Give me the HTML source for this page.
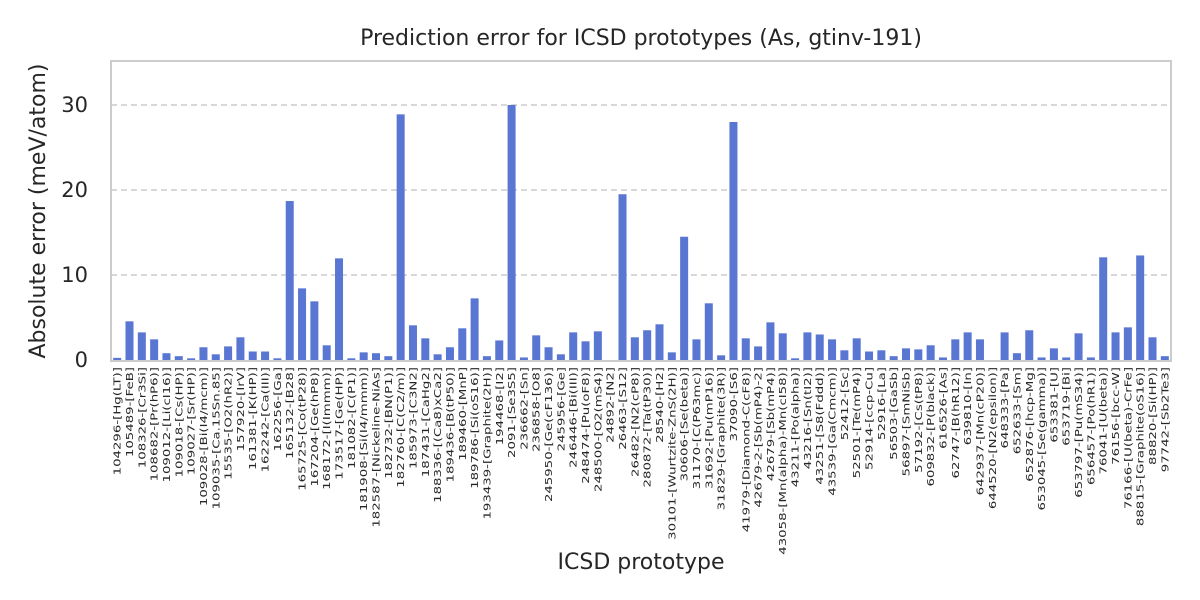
<!DOCTYPE html>
<html><head><meta charset="utf-8"><style>
html,body{margin:0;padding:0;background:#fff;}
svg{display:block;font-family:"Liberation Sans","DejaVu Sans",sans-serif;}
</style></head><body>
<svg id="chart" width="1200" height="600" viewBox="0 0 1200 600">
<rect width="1200" height="600" fill="#fff"/>
<text x="641" y="45" text-anchor="middle" font-size="22" fill="#262626" font-family="DejaVu Sans, sans-serif">Prediction error for ICSD prototypes (As, gtinv-191)</text>
<g id="grid"></g>
<g id="bars"></g>
<rect x="111" y="61" width="1060" height="300" fill="none" stroke="#cccccc" stroke-width="2"/>
<g id="yticks"></g>
<g id="xticks"></g>
<text transform="translate(45,211) rotate(-90)" text-anchor="middle" font-size="22" fill="#262626" font-family="DejaVu Sans, sans-serif">Absolute error (meV/atom)</text>
<text x="641" y="569" text-anchor="middle" font-size="22" fill="#262626" font-family="DejaVu Sans, sans-serif">ICSD prototype</text>
</svg>
<script>
const categories = ["104296-[Hg(LT)]","105489-[FeB]","108326-[Cr3Si]","108682-[Pr(hP6)]","109012-[Li(cI16)]","109018-[Cs(HP)]","109027-[Sr(HP)]","109028-[Bi(I4/mcm)]","109035-[Ca.15Sn.85]","15535-[O2(hR2)]","157920-[IrV]","161381-[K(HP)]","162242-[Ca(III)]","162256-[Ga]","165132-[B28]","165725-[Co(tP28)]","167204-[Ge(hP8)]","168172-[I(Immm)]","173517-[Ge(HP)]","181082-[C(P1)]","181908-[Si(I4/mmm)]","182587-[Nickeline-NiAs]","182732-[BN(P1)]","182760-[C(C2/m)]","185973-[C3N2]","187431-[CaHg2]","188336-[(Ca8)xCa2]","189436-[B(tP50)]","189460-[MnP]","189786-[Si(oS16)]","193439-[Graphite(2H)]","194468-[I2]","2091-[Se3S5]","236662-[Sn]","236858-[O8]","245950-[Ge(cF136)]","245956-[Ge]","246446-[Bi(III)]","248474-[Pu(oF8)]","248500-[O2(mS4)]","24892-[N2]","26463-[S12]","26482-[N2(cP8)]","280872-[Ta(tP30)]","28540-[H2]","30101-[Wurtzite-ZnS(2H)]","30606-[Se(beta)]","31170-[C(P63mc)]","31692-[Pu(mP16)]","31829-[Graphite(3R)]","37090-[S6]","41979-[Diamond-C(cF8)]","42679-2-[Sb(mP4)-2]","42679-[Sb(mP4)]","43058-[Mn(alpha)-Mn(cI58)]","43211-[Po(alpha)]","43216-[Sn(tI2)]","43251-[S8(Fddd)]","43539-[Ga(Cmcm)]","52412-[Sc]","52501-[Te(mP4)]","52914-[ccp-Cu]","52916-[La]","56503-[GaSb]","56897-[SmNiSb]","57192-[Cs(tP8)]","609832-[P(black)]","616526-[As]","62747-[B(hR12)]","639810-[In]","642937-[Mn(cP20)]","644520-[N2(epsilon)]","648333-[Pa]","652633-[Sm]","652876-[hcp-Mg]","653045-[Se(gamma)]","653381-[U]","653719-[Bi]","653797-[Pu(mS34)]","656457-[Po(hR1)]","76041-[U(beta)]","76156-[bcc-W]","76166-[U(beta)-CrFe]","88815-[Graphite(oS16)]","88820-[Si(HP)]","97742-[Sb2Te3]"];
const errors = [0.25,4.55,3.25,2.43,0.8,0.45,0.2,1.5,0.67,1.6,2.67,1.0,1.0,0.2,18.7,8.43,6.9,1.73,11.96,0.2,0.9,0.8,0.45,28.9,4.08,2.55,0.67,1.5,3.73,7.25,0.45,2.3,30.0,0.3,2.9,1.5,0.67,3.25,2.2,3.37,0,19.5,2.67,3.5,4.2,0.9,14.5,2.43,6.67,0.55,28.0,2.55,1.6,4.43,3.14,0.2,3.25,3.0,2.43,1.14,2.55,1.0,1.14,0.45,1.37,1.25,1.73,0.3,2.43,3.25,2.43,0,3.25,0.8,3.5,0.3,1.37,0.3,3.14,0.3,12.08,3.25,3.84,12.3,2.67,0.45];
const yTicks = [0,10,20,30];

const NS="http://www.w3.org/2000/svg";
const X0=111,X1=1171,Y0=360,PPU=8.5;
const step=(X1-X0)/categories.length;
const xc=i=>X0+(i+0.5)*step;
const y=v=>Y0-v*PPU;
function mk(t,a){const e=document.createElementNS(NS,t);for(const k in a)e.setAttribute(k,a[k]);return e;}
const grid=document.getElementById('grid'),bars=document.getElementById('bars'),yt=document.getElementById('yticks'),xt=document.getElementById('xticks');
yTicks.forEach(v=>{
  if(v>0){const l=mk('line',{x1:X0,x2:X1,y1:y(v),y2:y(v),stroke:'#cccccc','stroke-width':1.6,'stroke-dasharray':'6,4'});
  
  
  grid.appendChild(l);}
  const t=mk('text',{x:88,y:y(v)+7,'text-anchor':'end','font-size':21,fill:'#262626','font-family':'DejaVu Sans, sans-serif'});
  t.textContent=v;
  
  
  yt.appendChild(t);
});
const bw=step*0.65;
categories.forEach((c,i)=>{
  const r=mk('rect',{x:xc(i)-bw/2,y:y(errors[i]),width:bw,height:errors[i]*PPU,fill:'#5a76d3'});
  
  
  bars.appendChild(r);
  const t=mk('text',{transform:'translate('+(xc(i)+3.5)+',367) rotate(-90) scale(1.4,1)','text-anchor':'end','font-size':9.5,fill:'#262626','font-family':'DejaVu Sans, sans-serif'});
  t.textContent=c;
  
  
  xt.appendChild(t);
});
</script>
</body></html>
